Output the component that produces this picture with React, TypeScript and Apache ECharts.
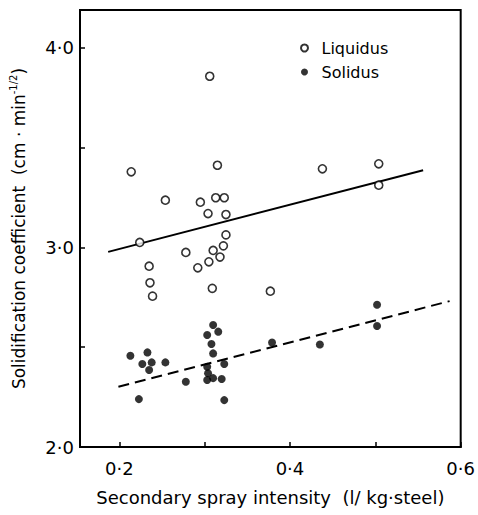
import React, { useEffect, useRef } from 'react';
import * as echarts from 'echarts';

const liquidusX = [0.214, 0.224, 0.235, 0.236, 0.239, 0.254, 0.278, 0.292, 0.295, 0.304, 0.305, 0.306, 0.309, 0.310, 0.313, 0.315, 0.318, 0.322, 0.323, 0.325, 0.325, 0.377, 0.438, 0.504, 0.504];
const liquidusY = [3.379, 3.025, 2.906, 2.823, 2.756, 3.237, 2.975, 2.898, 3.227, 3.170, 2.928, 3.858, 2.795, 2.985, 3.249, 3.412, 2.952, 3.008, 3.249, 3.165, 3.063, 2.781, 3.394, 3.419, 3.312];

const solidusX = [0.213, 0.223, 0.227, 0.233, 0.235, 0.238, 0.254, 0.278, 0.303, 0.303, 0.304, 0.303, 0.308, 0.310, 0.310, 0.316, 0.310, 0.320, 0.323, 0.323, 0.379, 0.435, 0.502, 0.502];
const solidusY = [2.457, 2.240, 2.416, 2.474, 2.386, 2.424, 2.424, 2.327, 2.561, 2.402, 2.370, 2.336, 2.516, 2.469, 2.611, 2.578, 2.345, 2.341, 2.416, 2.235, 2.524, 2.514, 2.713, 2.606];

const liquidusFitX = [0.187, 0.556];
const liquidusFitY = [2.978, 3.387];
const solidusFitX = [0.199, 0.587];
const solidusFitY = [2.302, 2.731];

const xLabelValues = [0.2, 0.4, 0.6];
const yLabelValues = [2, 3, 4];

const FONT = 'DejaVu Sans';

const zip = (xs: number[], ys: number[]) => xs.map((x, i) => [x, ys[i]]);
const fmt = (v: number) => v.toFixed(1).replace('.', '·');

export default function App() {
  const ref = useRef<HTMLDivElement>(null);
  useEffect(() => {
    document.body.style.margin = '0';
    const chart = echarts.init(ref.current!, null, { renderer: 'svg' });
    chart.setOption({
      animation: false,
      backgroundColor: '#fff',
      textStyle: { fontFamily: FONT, color: '#000' },
      grid: {
        left: 80,
        right: 16,
        top: 10,
        bottom: 68,
        show: true,
        borderColor: '#000',
        borderWidth: 2,
      },
      legend: {
        orient: 'vertical',
        left: 295,
        top: 35,
        itemWidth: 24,
        itemHeight: 7,
        itemGap: 8,
        data: ['Liquidus', 'Solidus'],
        textStyle: { fontFamily: FONT, fontSize: 16, color: '#000' },
      },
      xAxis: {
        type: 'value',
        min: 0.154,
        max: 0.6,
        splitNumber: 5,
        name: 'Secondary spray intensity  (l/ kg·steel)',
        nameLocation: 'middle',
        nameGap: 41,
        nameTextStyle: { fontFamily: FONT, fontSize: 18, color: '#000' },
        axisLine: { show: true, lineStyle: { color: '#000', width: 2 } },
        axisTick: { show: true, inside: true, length: 5, lineStyle: { color: '#000', width: 1.5 } },
        axisLabel: {
          margin: 12,
          fontFamily: FONT,
          fontSize: 18,
          color: '#000',
          showMinLabel: true,
          showMaxLabel: true,
          formatter: (v: number) => (xLabelValues.some((t) => Math.abs(t - v) < 1e-6) ? fmt(v) : ''),
        },
        splitLine: { show: false },
      },
      yAxis: {
        type: 'value',
        min: 2,
        max: 4.19,
        interval: 0.5,
        name: '{a|Solidification coefficient  (cm · min}{s|-1/2}{a|)}',
        nameLocation: 'middle',
        nameGap: 50,
        nameRotate: 90,
        nameTextStyle: {
          fontFamily: FONT,
          fontSize: 17,
          color: '#000',
          rich: {
            a: { fontFamily: FONT, fontSize: 17, color: '#000', lineHeight: 22 },
            s: { fontFamily: FONT, fontSize: 10, color: '#000', lineHeight: 22, verticalAlign: 'top', padding: [0, 0, 9, 0] },
          },
        },
        axisLine: { show: true, lineStyle: { color: '#000', width: 2 } },
        axisTick: { show: true, inside: true, length: 5, lineStyle: { color: '#000', width: 1.5 } },
        axisLabel: {
          margin: 6,
          fontFamily: FONT,
          fontSize: 18,
          color: '#000',
          formatter: (v: number) => (yLabelValues.some((t) => Math.abs(t - v) < 1e-6) ? fmt(v) : ''),
        },
        splitLine: { show: false },
      },
      series: [
        {
          name: 'Liquidus fit',
          type: 'line',
          data: zip(liquidusFitX, liquidusFitY),
          symbol: 'none',
          lineStyle: { color: '#000', width: 2 },
          z: 1,
        },
        {
          name: 'Solidus fit',
          type: 'line',
          data: zip(solidusFitX, solidusFitY),
          symbol: 'none',
          lineStyle: { color: '#000', width: 2, type: [11, 6] },
          z: 1,
        },
        {
          name: 'Liquidus',
          type: 'scatter',
          data: zip(liquidusX, liquidusY),
          symbol: 'circle',
          symbolSize: 8,
          itemStyle: { color: '#fff', borderColor: '#000', borderWidth: 1.6 },
          z: 3,
        },
        {
          name: 'Solidus',
          type: 'scatter',
          data: zip(solidusX, solidusY),
          symbol: 'circle',
          symbolSize: 8,
          itemStyle: { color: '#000' },
          z: 3,
        },
      ],
    });
    return () => chart.dispose();
  }, []);
  return <div ref={ref} style={{ width: 478, height: 515 }} />;
}
